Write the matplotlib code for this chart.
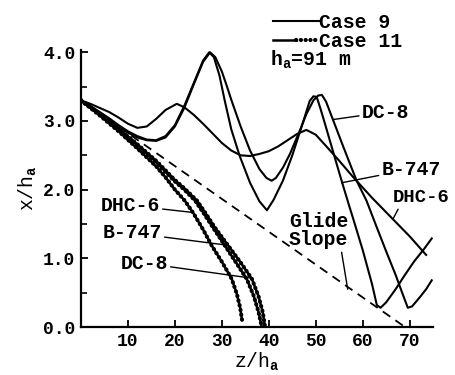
import matplotlib
matplotlib.use("Agg")
import matplotlib.pyplot as plt
from matplotlib.legend_handler import HandlerTuple
from matplotlib.ticker import MultipleLocator, FormatStrFormatter

plt.rcParams.update({
    "font.family": "Liberation Mono", "font.weight": "bold", "font.size": 14.2,
    "mathtext.fontset": "custom", "mathtext.rm": "Liberation Mono:bold",
    "mathtext.it": "Liberation Mono:bold", "axes.spines.top": False,
    "axes.spines.right": False,
})

# Case 9 (thin lines): z/h_a , x/h_a
dhc6_c9_z = [0, 2, 4, 6, 8, 10, 12, 14, 16, 18, 20.4, 22, 24, 26, 28, 30, 32, 34,
             36, 38, 40, 42, 44, 46, 48, 50, 52, 55, 58, 62, 66, 70, 73.5]
dhc6_c9_x = [3.30, 3.25, 3.19, 3.13, 3.05, 2.96, 2.90, 2.92, 3.03, 3.16, 3.25, 3.20,
             3.09, 2.96, 2.82, 2.68, 2.57, 2.50, 2.49, 2.52, 2.56, 2.63, 2.72, 2.81,
             2.87, 2.80, 2.65, 2.42, 2.18, 1.88, 1.60, 1.32, 1.05]
b747_c9_z = [0, 2, 4, 6, 8, 10, 12, 14, 16, 18, 20, 22, 24, 26, 27.3, 28.3, 29.5,
             30.6, 32, 33.8, 36, 38, 39.6, 41, 43, 45, 47, 48.7, 49.5, 50.2, 51, 52,
             54, 55.5, 57, 58, 60, 62, 63, 63.8, 65, 67, 69, 71, 73, 74.7]
b747_c9_x = [3.30, 3.22, 3.13, 3.04, 2.94, 2.85, 2.78, 2.73, 2.72, 2.78, 2.94, 3.22,
             3.55, 3.88, 4.00, 3.93, 3.66, 3.30, 2.88, 2.49, 2.10, 1.83, 1.70, 1.85,
             2.13, 2.50, 2.92, 3.29, 3.36, 3.35, 3.18, 2.95, 2.48, 2.13, 1.79, 1.57,
             1.12, 0.62, 0.32, 0.28, 0.36, 0.55, 0.76, 0.96, 1.13, 1.29]
dc8_c9_z = [0, 2, 4, 6, 8, 10, 12, 14, 16, 18, 20, 22, 24, 26, 27.5, 28.6, 30, 31,
            32.1, 34, 36, 38, 39.5, 40.6, 41.5, 43, 44.5, 46.6, 48, 49.5, 50.5, 51.3,
            52.2, 53.6, 56, 58.7, 60.8, 63, 65, 67, 68.5, 69.6, 70.5, 72, 73.5, 74.7]
dc8_c9_x = [3.30, 3.21, 3.12, 3.02, 2.92, 2.83, 2.76, 2.72, 2.71, 2.76, 2.92, 3.19,
            3.53, 3.86, 4.00, 3.93, 3.72, 3.52, 3.29, 2.92, 2.57, 2.30, 2.17, 2.13,
            2.17, 2.32, 2.52, 2.86, 3.10, 3.30, 3.37, 3.38, 3.28, 3.03, 2.60, 2.13,
            1.84, 1.45, 1.10, 0.76, 0.48, 0.28, 0.30, 0.42, 0.55, 0.68]

# Case 11 (thick dotted lines)
dhc6_c11_z = [0, 4, 8, 12, 16, 18, 20, 22.1, 24, 26, 27.8, 30, 32.1, 33.2, 33.9, 34.3]
dhc6_c11_x = [3.30, 3.08, 2.85, 2.60, 2.34, 2.18, 2.00, 1.84, 1.65, 1.42, 1.19, 0.95,
              0.70, 0.48, 0.28, 0.10]
b747_c11_z = [0, 4, 8, 12, 16, 20, 22, 24.3, 26, 28, 30.6, 33, 35.3, 36.8, 37.8, 38.5]
b747_c11_x = [3.30, 3.09, 2.88, 2.65, 2.40, 2.12, 2.00, 1.84, 1.67, 1.46, 1.19, 0.94,
              0.70, 0.45, 0.22, 0.00]
dc8_c11_z = [0, 4, 8, 12, 16, 20, 22, 24.7, 26.5, 28.5, 31.3, 34, 36.4, 37.8, 38.7, 39.2]
dc8_c11_x = [3.30, 3.10, 2.89, 2.66, 2.42, 2.14, 2.02, 1.84, 1.66, 1.45, 1.19, 0.94,
             0.70, 0.45, 0.22, 0.00]

glide_z = [0, 69]
glide_x = [3.3, 0.0]

fig = plt.figure(figsize=(4.55, 3.75), dpi=100)
ax = fig.add_axes([0.178, 0.128, 0.774, 0.738])

thin = dict(color="black", lw=1.5)
core = dict(color="black", lw=1.8)
dots = dict(color="black", lw=3.0, ls=(0, (0.05, 1.1)), dash_capstyle="round")

l9, = ax.plot(dhc6_c9_z, dhc6_c9_x, **thin)
ax.plot(b747_c9_z, b747_c9_x, **thin)
ax.plot(dc8_c9_z, dc8_c9_x, **thin)
for zz, xx in [(dhc6_c11_z, dhc6_c11_x), (b747_c11_z, b747_c11_x),
               (dc8_c11_z, dc8_c11_x)]:
    l11a, = ax.plot(zz, xx, **core)
    l11b, = ax.plot(zz, xx, **dots)
ax.plot(glide_z, glide_x, color="black", lw=1.3, ls=(0, (5, 3.5)))

ax.set_xlim(0, 75)
ax.set_ylim(0, 4.03)
ax.set_xticks([10, 20, 30, 40, 50, 60, 70])
ax.yaxis.set_major_locator(MultipleLocator(1.0))
ax.yaxis.set_minor_locator(MultipleLocator(0.5))
ax.yaxis.set_major_formatter(FormatStrFormatter("%.1f"))
ax.tick_params(direction="in", length=5, width=1.3, pad=4, labelsize=13)
ax.tick_params(which="minor", direction="in", length=4, width=1.2)
for s in ("left", "bottom"):
    ax.spines[s].set_linewidth(1.6)

ax.set_xlabel(r"z/h$_{\rm a}$", labelpad=1)
ax.set_ylabel(r"x/h$_{\rm a}$", labelpad=3)

ptr = dict(arrowstyle="-", color="black", lw=1.0, shrinkA=0, shrinkB=0)
ax.annotate("DHC-6", xy=(23.6, 1.67), xytext=(16.8, 1.77), ha="right", va="center",
            arrowprops=ptr)
ax.annotate("B-747", xy=(31.3, 1.19), xytext=(17.2, 1.37), ha="right", va="center",
            arrowprops=ptr)
ax.annotate("DC-8", xy=(36.4, 0.71), xytext=(18.5, 0.93), ha="right", va="center",
            arrowprops=ptr)
ax.annotate("DC-8", xy=(53.6, 3.02), xytext=(59.8, 3.13), ha="left", va="center",
            arrowprops=ptr)
ax.annotate("B-747", xy=(55.5, 2.10), xytext=(64.0, 2.30), ha="left", va="center",
            arrowprops=ptr)
ax.annotate("DHC-6", xy=(66.5, 1.58), xytext=(66.4, 1.88), ha="left", va="center",
            fontsize=13.6, arrowprops=dict(ptr, relpos=(0.12, 0.0)),
            annotation_clip=False)
ax.annotate("Glide\nSlope", xy=(56.8, 0.55), xytext=(50.6, 1.40), ha="center",
            va="center", multialignment="center", linespacing=0.95,
            arrowprops=dict(ptr, relpos=(0.88, 0.0)))

fig.legend([l9, (l11a, l11b)], ["Case 9", "Case 11"], loc="upper left",
           bbox_to_anchor=(0.600, 0.965), frameon=False, handlelength=2.35,
           handletextpad=0.0, labelspacing=0.0, borderpad=0, borderaxespad=0,
           handler_map={tuple: HandlerTuple(ndivide=None, pad=0)})
fig.text(0.593, 0.826, r"h$_{\rm a}$=91 m", ha="left", va="baseline")

fig.savefig("out.png", dpi=100)
